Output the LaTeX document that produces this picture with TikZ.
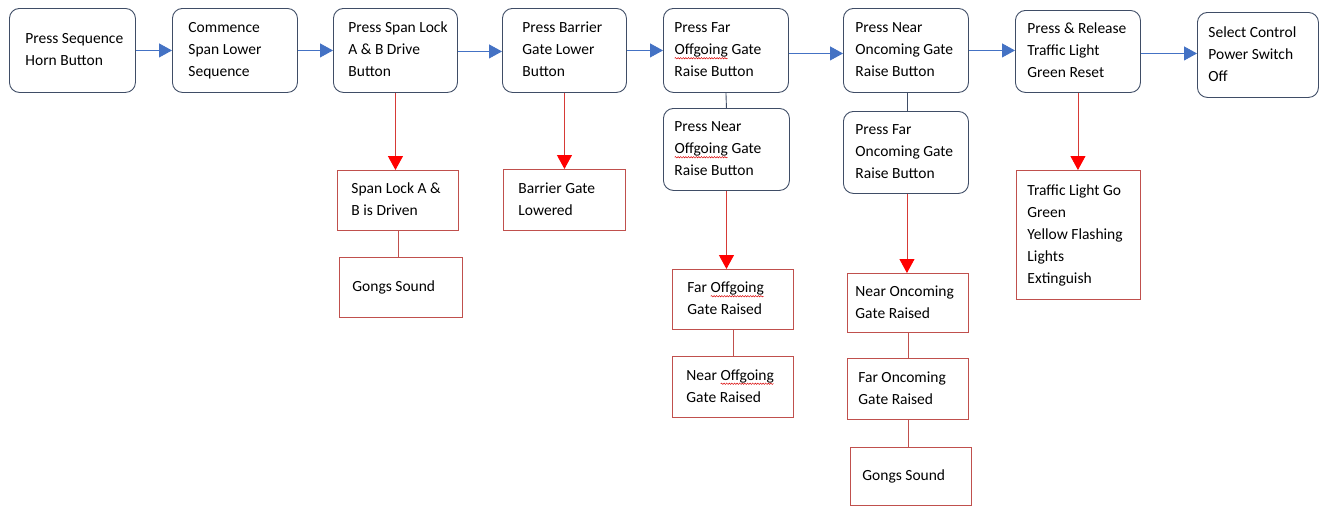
\documentclass[tikz,border=0pt]{standalone}
\usepackage{fontspec}
\setmainfont{Carlito}
\usetikzlibrary{arrows.meta,decorations.pathmorphing}

\definecolor{boxblue}{HTML}{3F4D66}
\definecolor{arrowblue}{HTML}{4472C4}
\definecolor{boxred}{HTML}{C0504D}
\definecolor{linered}{HTML}{D63A36}

% red wavy spell-check underline beneath a word
\newcommand\spellmark[1]{\tikz[baseline=(sm.base),sharp corners]{%
  \node[inner sep=0pt,outer sep=0pt,minimum width=0pt,minimum height=0pt,text width={},
        anchor=base,draw=none](sm){#1};%
  \draw[red!85!black,line width=0.45pt,decorate,decoration={snake,amplitude=0.7pt,segment length=2.6pt}]
    ([yshift=-3.4pt]sm.base west) -- ([yshift=-3.4pt]sm.base east);}}
% box text: left padding, box width, lines
\newcommand\boxtext[3]{\begin{tabular}{@{\hspace{#1pt}}p{\dimexpr#2pt-#1pt\relax}@{}}#3\end{tabular}}

\begin{document}
\begin{tikzpicture}[x=1pt,y=-1pt,
  basebox/.style={anchor=north west,inner sep=0pt,
    font=\fontsize{15.5}{22}\selectfont,line width=0.9pt},
  bluebox/.style={basebox,draw=boxblue,rounded corners=10pt},
  redbox/.style={basebox,draw=boxred},
  barrow/.style={draw=arrowblue,line width=0.9pt,-{Triangle[length=13pt,width=14pt]},arrowblue},
  rarrow/.style={draw=linered,line width=0.9pt,-{Triangle[length=14pt,width=15pt,color=red]}},
  blink/.style={draw=boxblue,line width=0.9pt},
  rlink/.style={draw=boxred,line width=0.9pt}]
\useasboundingbox (0,0) rectangle (1325,506);

% main sequence
\node[bluebox,minimum height=84pt] (b1) at (9,8) {\boxtext{16}{126}{Press Sequence\\Horn Button}};
\node[bluebox,minimum height=84pt] (b2) at (172,8) {\boxtext{16}{125}{Commence\\Span Lower\\Sequence}};
\node[bluebox,minimum height=84pt] (b3) at (333,8) {\boxtext{15}{124}{Press Span Lock\\A \& B Drive\\Button}};
\node[bluebox,minimum height=84pt] (b4) at (502,8) {\boxtext{20}{124}{Press Barrier\\Gate Lower\\Button}};
\node[bluebox,minimum height=84pt] (b5) at (663,8) {\boxtext{11}{125}{Press Far\\\spellmark{Offgoing} Gate\\Raise Button}};
\node[bluebox,minimum height=82pt] (b6) at (663,108) {\boxtext{11}{126}{Press Near\\\spellmark{Offgoing} Gate\\Raise Button}};
\node[bluebox,minimum height=84pt] (b7) at (843,8) {\boxtext{12}{125}{Press Near\\Oncoming Gate\\Raise Button}};
\node[bluebox,minimum height=82pt] (b8) at (843,111) {\boxtext{12}{125}{Press Far\\Oncoming Gate\\Raise Button}};
\node[bluebox,minimum height=82pt] (b9) at (1015,10) {\boxtext{12}{125}{Press \& Release\\Traffic Light\\Green Reset}};
\node[bluebox,minimum height=85pt] (b10) at (1197,12) {\boxtext{11}{121}{Select Control\\Power Switch\\Off}};

% resulting states
\node[redbox,minimum height=60pt] (r1) at (337,170) {\boxtext{14}{121}{Span Lock A \&\\B is Driven}};
\node[redbox,minimum height=60pt] (r2) at (339,257) {\boxtext{13}{123}{Gongs Sound}};
\node[redbox,minimum height=61pt] (r3) at (503,169) {\boxtext{15}{122}{Barrier Gate\\Lowered}};
\node[redbox,minimum height=129pt] (r4) at (1016,170) {\boxtext{11}{124}{Traffic Light Go\\Green\\Yellow Flashing\\Lights\\Extinguish}};
\node[redbox,minimum height=60pt] (r5) at (672,269) {\boxtext{15}{121}{Far \spellmark{Offgoing}\\Gate Raised}};
\node[redbox,minimum height=61pt] (r6) at (672,356) {\boxtext{14}{121}{Near \spellmark{Offgoing}\\Gate Raised}};
\node[redbox,minimum height=59pt] (r7) at (847,273) {\boxtext{8}{121}{Near Oncoming\\Gate Raised}};
\node[redbox,minimum height=61pt] (r8) at (847,358) {\boxtext{11}{121}{Far Oncoming\\Gate Raised}};
\node[redbox,minimum height=58pt] (r9) at (850,447) {\boxtext{12}{121}{Gongs Sound}};

% sequence arrows
\draw[barrow] (b1.east) -- (b2.west |- b1.east);
\draw[barrow] (b2.east) -- (b3.west |- b2.east);
\draw[barrow] (b3.east) ++(0,1) coordinate (s3) -- (b4.west |- s3);
\draw[barrow] (b4.east) -- (b5.west |- b4.east);
\draw[barrow] (b5.east) ++(0,3) coordinate (s5) -- (b7.west |- s5);
\draw[barrow] (b7.east) -- (b9.west |- b7.east);
\draw[barrow] (b9.east) ++(0,2) coordinate (s9) -- (b10.west |- s9);

% paired buttons
\draw[blink] (b5.south) -- (b6.north);
\draw[blink] (b7.south) ++(1.5,0) coordinate (t7) -- (t7 |- b8.north);

% result arrows
\draw[rarrow] (b3.south) -- (b3.south |- r1.north);
\draw[rarrow] (b4.south) -- (b4.south |- r3.north);
\draw[rarrow] (b6.south) -- (b6.south |- r5.north);
\draw[rarrow] (b8.south) ++(1,0) coordinate (t8) -- (t8 |- r7.north);
\draw[rarrow] (b9.south) -- (b9.south |- r4.north);

% linked results
\draw[rlink] (r1.south) -- (r1.south |- r2.north);
\draw[rlink] (r5.south) -- (r6.north);
\draw[rlink] (r7.south) -- (r8.north);
\draw[rlink] (r8.south) -- (r8.south |- r9.north);
\end{tikzpicture}
\end{document}
